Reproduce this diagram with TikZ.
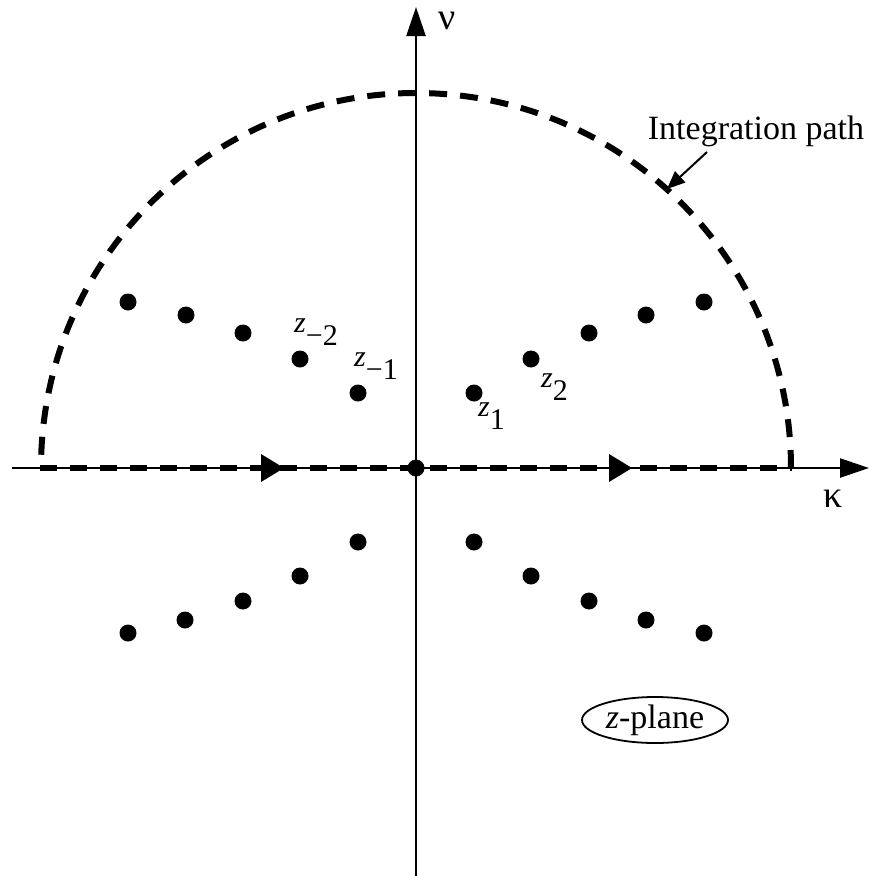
\documentclass[tikz,border=0pt]{standalone}
\usepackage{fontspec}
\setmainfont{Liberation Serif}
\usetikzlibrary{arrows.meta,shapes.geometric}
\begin{document}
\begin{tikzpicture}[x=1pt,y=-1pt,
 dot/.style={circle,fill=black,inner sep=0pt,minimum size=17pt},
 axisline/.style={line width=2.4pt,-{Triangle[length=29pt,width=19pt]}},
 pathline/.style={line width=6pt,dash pattern=on 18pt off 13pt},
 axisdash/.style={line width=5.5pt,dash pattern=on 17pt off 13pt},
 lbl/.style={font=\fontsize{34}{40}\selectfont,inner sep=0pt},
 greek/.style={font=\fontsize{38}{44}\selectfont,inner sep=0pt},
 zl/.style={font=\fontsize{30}{34}\selectfont,inner sep=0pt,anchor=base west},
]
\useasboundingbox (0,0) rectangle (870,876);
\newcommand{\zsub}[1]{\textit{z}\raisebox{-0.45em}{#1}}
% axes
\coordinate (xs) at (12,468);
\coordinate (xe) at (869,468);
\coordinate (ys) at (416,876);
\coordinate (ye) at (416,7);
\draw[axisline] (xs) -- (xe);
\draw[axisline] (ys) -- (ye);
\node[greek,anchor=base] (nu) at (447,29) {ν};
\node[greek] (kappa) at (833,499) {κ};
% integration path
\coordinate (A) at (791,468);
\coordinate (L) at (40,468);
\coordinate (R) at (792,468);
\draw[pathline] (A) arc[start angle=0,end angle=180,radius=375pt];
\draw[axisdash] (L) -- (R);
\fill (284,468) -- (261,454) -- (261,482) -- cycle;
\fill (632,468) -- (609,454) -- (609,482) -- cycle;
% origin
\node[dot] (o) at (416,468) {};
% poles
\node[dot] (u1) at (128,302) {};
\node[dot] (u2) at (186,315) {};
\node[dot] (u3) at (243,333) {};
\node[dot] (u4) at (300,359) {};
\node[dot] (u5) at (358,393) {};
\node[dot] (v1) at (474,393) {};
\node[dot] (v2) at (531,359) {};
\node[dot] (v3) at (589,333) {};
\node[dot] (v4) at (646,315) {};
\node[dot] (v5) at (704,302) {};
\node[dot] (w1) at (128,633) {};
\node[dot] (w2) at (185,620) {};
\node[dot] (w3) at (243,601) {};
\node[dot] (w4) at (300,576) {};
\node[dot] (w5) at (358,542) {};
\node[dot] (q1) at (474,542) {};
\node[dot] (q2) at (531,576) {};
\node[dot] (q3) at (589,601) {};
\node[dot] (q4) at (646,620) {};
\node[dot] (q5) at (704,633) {};
% labels
\node[zl] (lm2) at (294,332) {\zsub{−2}};
\node[zl] (lm1) at (354,366) {\zsub{−1}};
\node[zl] (l1) at (478,416) {\zsub{1}};
\node[zl] (l2) at (541,387) {\zsub{2}};
% annotation
\node[lbl] (ip) at (756,131) {Integration path};
\coordinate (ipt) at (707,152);
\coordinate (iph) at (667,189);
\draw[line width=2pt,-{Triangle[length=18pt,width=15pt]}] (ipt) -- (iph);
\node[ellipse,draw,line width=1.8pt,minimum width=146pt,minimum height=46pt,lbl] (zp) at (655,720) {\textit{z}-plane};
\end{tikzpicture}
\end{document}
